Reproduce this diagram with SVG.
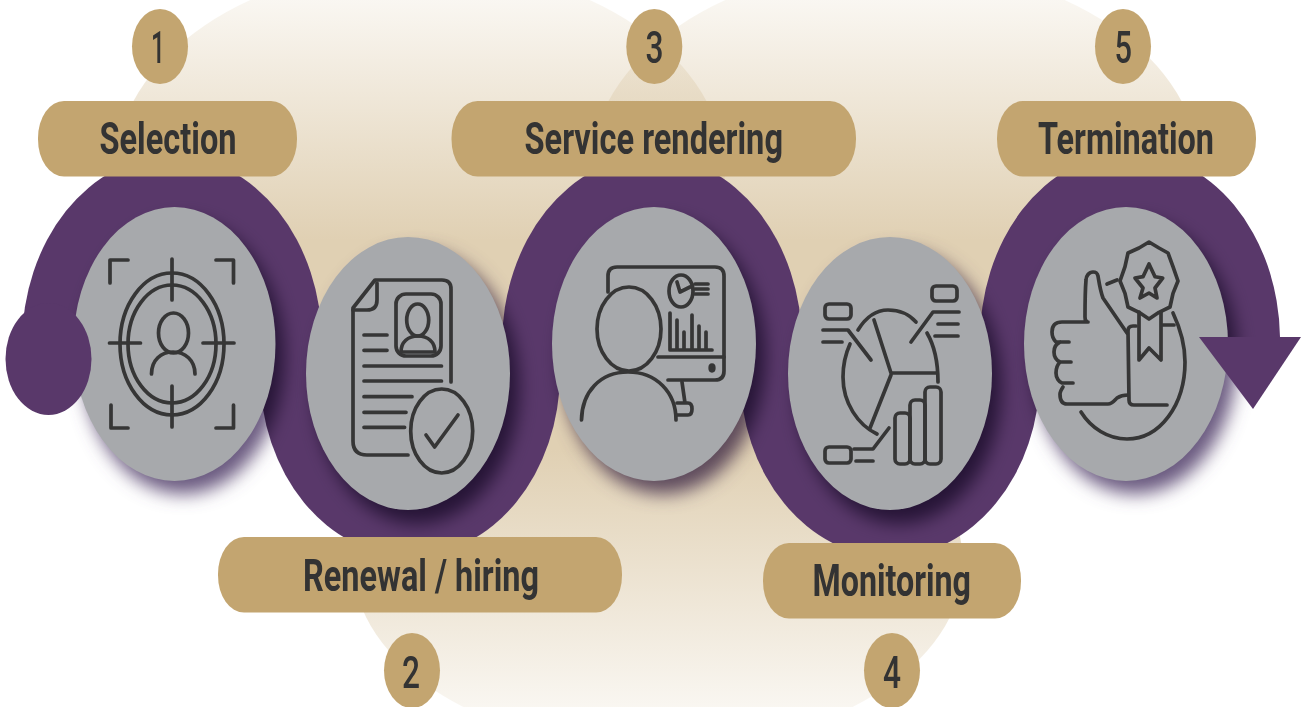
<svg xmlns="http://www.w3.org/2000/svg" width="1301" height="707" viewBox="0 0 1301 707">
<style>
.pill,.badge{fill:#c3a570}
.disc{fill:#a7a9ac}
.shade{fill:#6b5a80;filter:url(#sh);mix-blend-mode:multiply}
.rib{fill:#59386a}
.ic{fill:none;stroke:#363636;stroke-width:3.7;stroke-linecap:round;stroke-linejoin:round}
.lbl{font-family:Roboto,"Liberation Sans",sans-serif;font-weight:700;font-size:44px;fill:#333}
.num{font-family:Roboto,"Liberation Sans",sans-serif;font-weight:500;font-size:44px;fill:#333}
</style>
<defs>
<linearGradient id="gt" gradientUnits="userSpaceOnUse" x1="0" y1="-36" x2="0" y2="240"><stop offset="0" stop-color="#e0d0b3" stop-opacity=".05"/><stop offset="1" stop-color="#e0d0b3"/></linearGradient>
<linearGradient id="gb" gradientUnits="userSpaceOnUse" x1="0" y1="750" x2="0" y2="450"><stop offset="0" stop-color="#e0d0b3" stop-opacity=".05"/><stop offset="1" stop-color="#e0d0b3"/></linearGradient>
<filter id="sh" x="-30%" y="-30%" width="160%" height="160%"><feGaussianBlur stdDeviation="9"/></filter>
</defs>
<rect width="1301" height="707" fill="#fff"/>
<g id="background">
<ellipse cx="420" cy="172" rx="305" ry="207" fill="url(#gt)"/>
<ellipse cx="895" cy="172" rx="305" ry="207" fill="url(#gt)"/>
<ellipse cx="658" cy="563" rx="305" ry="187" fill="url(#gb)"/>
</g>
<g id="connectors">
<path class="rib" d="M22 373V344A150 188 0 0 1 322 344V373Z"/>
<path class="rib" d="M260 344V373A150 183 0 0 0 560 373V344Z"/>
<path class="rib" d="M502 373V344A150 188 0 0 1 802 344V373Z"/>
<path class="rib" d="M740 344V373A150 184 0 0 0 1040 373V344Z"/>
<path class="rib" d="M980 373V344A150 188 0 0 1 1280 337V344H1200V373Z"/>
</g>
<g id="node-1">
<ellipse class="shade" cx="183" cy="357" rx="101" ry="137"/>
<ellipse class="disc" cx="174.500" cy="344" rx="101" ry="137"/>
<g class="ic">
<path d="M110 283V260H128M216 260H233.500V283M111 405V428H128M216 428H233.500V405"/>
<ellipse cx="172" cy="344" rx="52" ry="71"/><ellipse cx="172" cy="344" rx="44" ry="59"/>
<path d="M172 259V300M172 386V427M109.500 343H140.500M203 343H234"/>
<ellipse cx="173.500" cy="333" rx="15" ry="20"/>
<path d="M151.500 374C151.500 360 161 352 173 352S195 360 195 374"/>
</g>
<rect class="pill" x="38" y="101" width="259" height="75.500" rx="26" ry="37"/>
<text class="lbl" x="99.500" y="154" textLength="137" lengthAdjust="spacingAndGlyphs">Selection</text>
<ellipse class="badge" cx="160" cy="46.500" rx="28" ry="37.500"/>
<text class="num" x="151" y="63" textLength="14" lengthAdjust="spacingAndGlyphs">1</text>
</g>
<g id="node-2">
<ellipse class="shade" cx="417" cy="387" rx="102" ry="136.500"/>
<ellipse class="disc" cx="408" cy="373.500" rx="102" ry="136.500"/>
<g class="ic">
<path d="M408 455H367Q353 455 353 441V308L375 280H442Q451 280 451 289V382"/>
<path d="M377 283V300Q377 310 367 310H353"/>
<rect x="396" y="294" width="45" height="62" rx="10"/>
<ellipse cx="417.700" cy="320" rx="11" ry="16"/>
<path d="M401 352C401 342 408 336 418 336S435 342 435 352Z"/>
<path d="M364 335H387M364 350.300H387M364 366H441.500M364 381H441.500M364 396.700H412M364 412.300H406M364 427.300H404.600"/>
<ellipse cx="441.700" cy="431" rx="31" ry="42"/>
<path d="M426 435L434.600 447L458 415"/>
</g>
<rect class="pill" x="218" y="537" width="404" height="75.500" rx="26" ry="37"/>
<text class="lbl" x="303" y="590.500" textLength="236" lengthAdjust="spacingAndGlyphs">Renewal / hiring</text>
<ellipse class="badge" cx="412" cy="670.500" rx="28" ry="37.500"/>
<text class="num" x="402" y="687.500" textLength="18" lengthAdjust="spacingAndGlyphs">2</text>
</g>
<g id="node-3">
<ellipse class="shade" cx="663" cy="357" rx="102" ry="137"/>
<ellipse class="disc" cx="654" cy="344" rx="102" ry="137"/>
<g class="ic">
<path d="M608 292V276Q608 267 617 267H715Q724 267 724 276V371Q724 380 715 380H668"/>
<path d="M658 357H724"/>
<ellipse cx="712" cy="368" rx="1.800" ry="2.800"/>
<ellipse cx="629" cy="329" rx="32" ry="42"/>
<path d="M581.500 420C582 392 600 372 628 372S676 392 676 420"/>
<path d="M682 382L685 403M677 403H688Q692 403 692 409T688 415H677"/>
<ellipse cx="681" cy="291" rx="12" ry="16"/>
<path d="M677 282L680 292L690 287M695 284H708M695 289H708M695 294H708"/>
<path d="M670 350H712M670 313V350M677 320V350M684 332V350M692 315V350M699 326V350M706 332V350"/>
</g>
<rect class="pill" x="451.500" y="101" width="404.500" height="75.500" rx="26" ry="37"/>
<text class="lbl" x="524.500" y="154" textLength="258.500" lengthAdjust="spacingAndGlyphs">Service rendering</text>
<ellipse class="badge" cx="654.300" cy="46.500" rx="28" ry="37.500"/>
<text class="num" x="645.500" y="63" textLength="18" lengthAdjust="spacingAndGlyphs">3</text>
</g>
<g id="node-4">
<ellipse class="shade" cx="899" cy="387" rx="102" ry="136.500"/>
<ellipse class="disc" cx="890" cy="373.500" rx="102" ry="136.500"/>
<g class="ic">
<path d="M891 373L874 320M891 373H937M891 375L870 428"/>
<path d="M858 330C866 317 877 310 888 310C899 310 909 314 916 322"/>
<path d="M927 333C934 345 938 362 938 382"/>
<path d="M850 344C845 355 843 366 843 377C843 403 858 425 877 434"/>
<rect x="825" y="304" width="26" height="15" rx="4"/>
<path d="M823 330H848L871 360M823 342H842"/>
<rect x="932" y="286" width="25" height="15" rx="4"/>
<path d="M959 312H933L911 342M938 324H958M935 336H958"/>
<rect x="825" y="447" width="26" height="16" rx="4"/>
<path d="M854 449H873L889 428M856 461H873"/>
<rect x="895" y="413" width="15" height="51" rx="5"/><rect x="910" y="400" width="15" height="64" rx="5"/><rect x="925" y="387" width="16" height="77" rx="5"/>
</g>
<rect class="pill" x="763" y="543" width="258" height="75.500" rx="26" ry="37"/>
<text class="lbl" x="812.500" y="596" textLength="158.500" lengthAdjust="spacingAndGlyphs">Monitoring</text>
<ellipse class="badge" cx="892" cy="670.500" rx="28" ry="37.500"/>
<text class="num" x="883" y="687.500" textLength="18" lengthAdjust="spacingAndGlyphs">4</text>
</g>
<g id="node-5">
<ellipse class="shade" cx="1135" cy="357" rx="102" ry="137"/>
<ellipse class="disc" cx="1126" cy="344" rx="102" ry="137"/>
<g class="ic">
<path d="M1149 242L1159 248L1168 253L1173 266.600L1178 281L1173 293.400L1170 307L1159 312.300L1149 319L1139 312.300L1128 307L1125 293.400L1120 281L1125 266.600L1128 253L1139 248Z"/>
<path d="M1149 264L1155 276.700L1162.700 278L1155 288L1157 298L1149 293L1140 298L1143 288L1135 278L1143 276.700Z"/>
<path d="M1139 312V360L1149 348L1161 360V312"/>
<path d="M1107 284L1117 280"/>
<path d="M1127 333L1103 298C1100 290 1099 282 1098 276C1097 272 1095 272 1093 272C1089 272 1086 276 1086 280C1085 292 1085 305 1085 317Q1085 322 1088 322H1062C1055 322 1052 326 1052 332C1052 337 1054 340 1056 342H1069M1060 342C1056 344 1054 348 1054 352C1054 357 1056 360 1060 362H1071M1060 362C1057 365 1056 369 1056 373C1056 378 1059 382 1062 383H1073M1063 387C1061 390 1060 392 1060 394C1060 400 1062 404 1067 404H1108C1112 404 1114 401 1117 398C1120 396 1124 395 1128 395"/>
<path d="M1136 326H1133Q1128 326 1128 331L1129 400Q1129 405 1134 405H1167"/>
<path d="M1163 325H1174"/>
<path d="M1173 313C1181 330 1185 345 1185 362C1185 405 1160 439 1127 439C1108 439 1091 428 1081 412"/>
</g>
<rect class="pill" x="997" y="101" width="259" height="75.500" rx="26" ry="37"/>
<text class="lbl" x="1038" y="154" textLength="176" lengthAdjust="spacingAndGlyphs">Termination</text>
<ellipse class="badge" cx="1123" cy="46.500" rx="28" ry="37.500"/>
<text class="num" x="1114.500" y="63" textLength="17.500" lengthAdjust="spacingAndGlyphs">5</text>
</g>
<g id="connector-ends">
<ellipse class="rib" cx="48.500" cy="359" rx="43" ry="56"/>
<path class="rib" d="M1199 337H1301L1253 409Z"/>
</g>
</svg>
